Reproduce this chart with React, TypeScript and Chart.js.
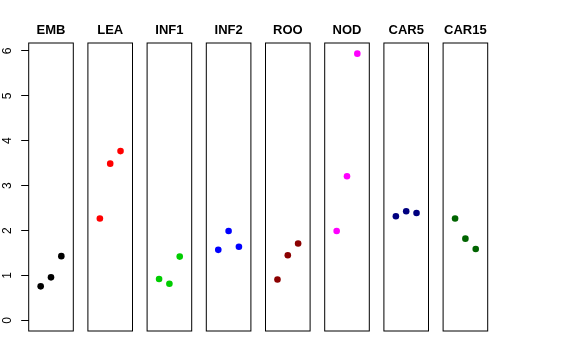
import React, { useEffect, useRef } from "react";
import Chart from "chart.js/auto";

// ---- data ----
const categories = ["EMB", "LEA", "INF1", "INF2", "ROO", "NOD", "CAR5", "CAR15"];
const xPositions = [1, 2, 3];
const embValues = [0.757, 0.958, 1.43];
const leaValues = [2.27, 3.49, 3.77];
const inf1Values = [0.92, 0.815, 1.42];
const inf2Values = [1.57, 1.99, 1.64];
const rooValues = [0.91, 1.45, 1.71];
const nodValues = [1.99, 3.21, 5.94];
const car5Values = [2.32, 2.43, 2.39];
const car15Values = [2.27, 1.82, 1.59];
const seriesValues = [embValues, leaValues, inf1Values, inf2Values, rooValues, nodValues, car5Values, car15Values];
const seriesColors = ["#000000", "#FF0000", "#00CD00", "#0000FF", "#8B0000", "#FF00FF", "#000080", "#006400"];
const yTickValues = [0, 1, 2, 3, 4, 5, 6];

// ---- layout (styles) ----
const FONT = "'Liberation Sans', Arial, Helvetica, sans-serif";
const PANEL_LEFT0 = 28.7;
const PANEL_STEP = 59.2;
const PANEL_W = 44.6;
const PANEL_TOP = 43;
const PANEL_BOTTOM = 331;
const H = 360;
const Y_LABEL_X = 7.8;

const allValues = seriesValues.flat();
const yMaxData = Math.max(...allValues);
const yPad = yMaxData * 0.04;
const xPad = (4 - 0) * 0.04;

const boxPlugin = {
  id: "panelBox",
  afterDraw(chart: any) {
    const { ctx, chartArea } = chart;
    ctx.save();
    ctx.strokeStyle = "#000";
    ctx.lineWidth = 1;
    ctx.strokeRect(chartArea.left, chartArea.top, chartArea.right - chartArea.left, chartArea.bottom - chartArea.top);
    ctx.restore();
  },
};

// draws the y-axis tick labels rotated (R style), at the scale's own tick pixels
const rotatedYLabels = {
  id: "rotatedYLabels",
  afterDraw(chart: any) {
    const scale = chart.scales.y;
    if (!scale || !scale.options.display) return;
    const { ctx } = chart;
    ctx.save();
    ctx.fillStyle = "#000";
    ctx.font = `12px ${FONT}`;
    ctx.textAlign = "center";
    ctx.textBaseline = "middle";
    for (const t of scale.ticks) {
      const y = scale.getPixelForValue(t.value);
      ctx.save();
      ctx.translate(Y_LABEL_X, y);
      ctx.rotate(-Math.PI / 2);
      ctx.fillText(String(t.value), 0, 0);
      ctx.restore();
    }
    ctx.restore();
  },
};

function Panel({ index }: { index: number }) {
  const ref = useRef<HTMLCanvasElement>(null);
  const first = index === 0;
  const panelLeft = PANEL_LEFT0 + index * PANEL_STEP;
  const divLeft = first ? 0 : Math.floor(panelLeft) - 4;
  const divWidth = first ? Math.ceil(panelLeft + PANEL_W) + 4 : 53;
  const padLeft = first ? 0 : panelLeft - divLeft;
  const padRight = divWidth - (panelLeft - divLeft) - PANEL_W;

  useEffect(() => {
    if (!ref.current) return;
    const titleSize = 13;
    const titleH = titleSize * 1.2;
    const padTop = 22.4;
    const padBottom = PANEL_TOP - titleH - padTop;
    const chart = new Chart(ref.current, {
      type: "scatter",
      data: {
        datasets: [
          {
            label: categories[index],
            data: xPositions.map((x, i) => ({ x, y: seriesValues[index][i] })),
            backgroundColor: seriesColors[index],
            borderWidth: 0,
            pointRadius: 3.3,
            pointHoverRadius: 3.3,
          },
        ],
      },
      plugins: [boxPlugin, rotatedYLabels],
      options: {
        animation: false,
        responsive: true,
        maintainAspectRatio: false,
        devicePixelRatio: 1,
        layout: { padding: { left: padLeft, right: padRight, top: 0, bottom: H - PANEL_BOTTOM } },
        plugins: {
          legend: { display: false },
          tooltip: { enabled: false },
          title: {
            display: true,
            text: categories[index],
            fullSize: false,
            color: "#000",
            font: { family: FONT, size: titleSize, weight: "bold", lineHeight: 1.2 },
            padding: { top: padTop, bottom: padBottom },
          },
        },
        scales: {
          x: {
            type: "linear",
            min: 0 - xPad,
            max: 4 + xPad,
            display: false,
          },
          y: {
            type: "linear",
            min: -yPad,
            max: yMaxData + yPad,
            display: first,
            afterFit: (scale: any) => {
              if (first) scale.width = PANEL_LEFT0;
            },
            afterBuildTicks: (scale: any) => {
              scale.ticks = yTickValues.map((v) => ({ value: v }));
            },
            border: { display: false },
            grid: {
              drawOnChartArea: false,
              drawTicks: true,
              tickLength: 7.5,
              tickColor: "#000",
              lineWidth: 1,
            },
            ticks: {
              display: false,
              includeBounds: false,
            },
          },
        },
      },
    });
    return () => chart.destroy();
  }, [index]);

  return (
    <div style={{ position: "absolute", left: divLeft, top: 0, width: divWidth, height: H }}>
      <canvas ref={ref} />
    </div>
  );
}

export default function App() {
  return (
    <div style={{ position: "absolute", left: 0, top: 0, width: 576, height: H, background: "#fff", overflow: "hidden" }}>
      {categories.map((c, i) => (
        <Panel key={c} index={i} />
      ))}
    </div>
  );
}
